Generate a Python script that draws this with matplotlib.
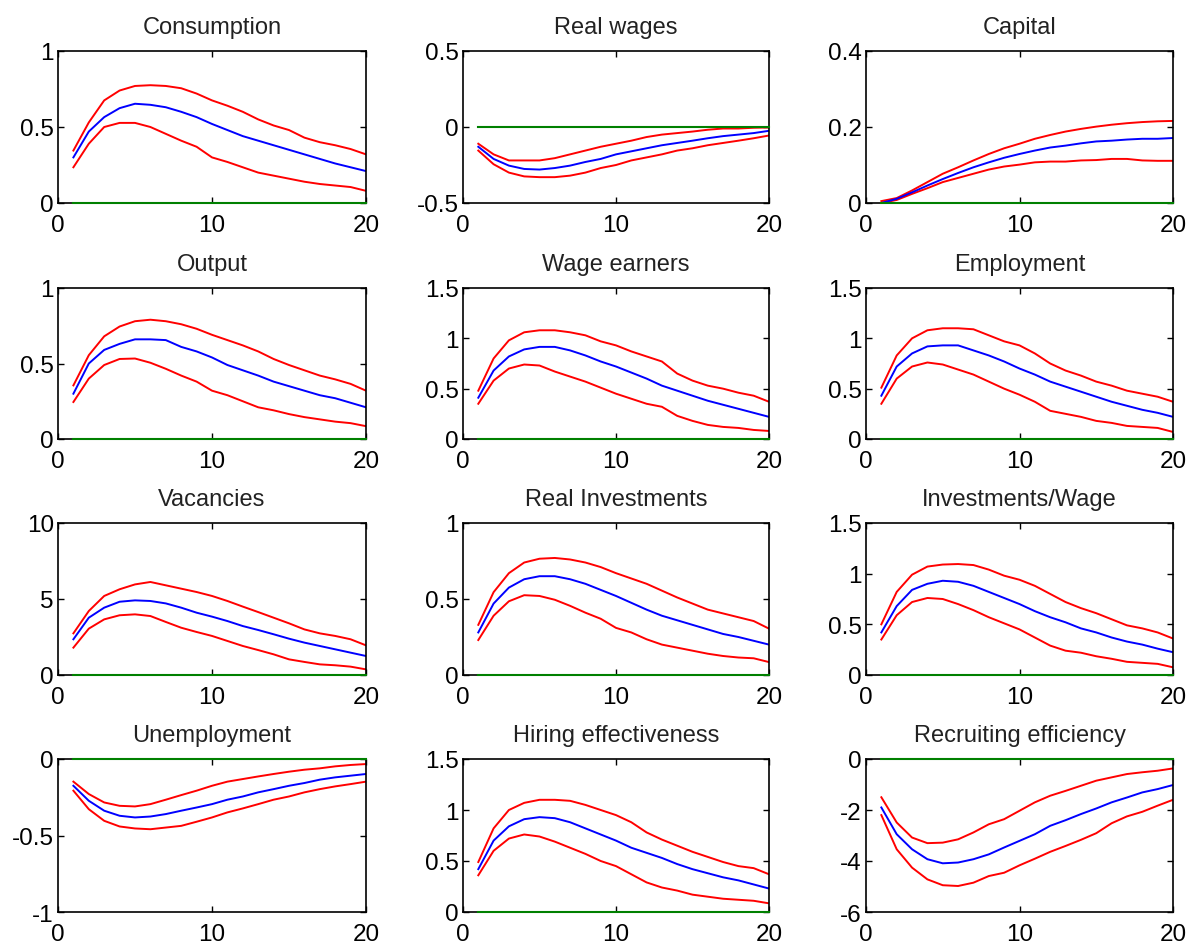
import numpy as np
import matplotlib
# no display here
matplotlib.use('Agg')
import matplotlib.pyplot as plt

plt.rcParams['font.family'] = ['Liberation Sans', 'DejaVu Sans']

HORIZON = list(range(1, 21))

# median (blue) and lower/upper bands (red) per variable
consumption_med = [0.30, 0.47, 0.565, 0.624, 0.653, 0.646, 0.63, 0.60, 0.565, 0.52,
                   0.48, 0.44, 0.41, 0.38, 0.35, 0.32, 0.29, 0.26, 0.235, 0.21]
consumption_hi = [0.345, 0.53, 0.675, 0.74, 0.77, 0.775, 0.77, 0.755, 0.72, 0.675,
                  0.64, 0.60, 0.55, 0.51, 0.48, 0.43, 0.40, 0.38, 0.355, 0.32]
consumption_lo = [0.235, 0.39, 0.50, 0.527, 0.527, 0.50, 0.455, 0.41, 0.37, 0.30,
                  0.27, 0.235, 0.20, 0.18, 0.16, 0.14, 0.125, 0.115, 0.105, 0.08]

wages_med = [-0.13, -0.21, -0.254, -0.276, -0.28, -0.27, -0.254, -0.23, -0.21, -0.18,
             -0.16, -0.14, -0.12, -0.105, -0.09, -0.074, -0.06, -0.05, -0.04, -0.025]
wages_hi = [-0.11, -0.18, -0.22, -0.22, -0.22, -0.205, -0.18, -0.155, -0.13, -0.11,
            -0.09, -0.066, -0.05, -0.04, -0.03, -0.018, -0.01, -0.01, -0.005, -0.003]
wages_lo = [-0.155, -0.245, -0.30, -0.325, -0.33, -0.33, -0.32, -0.30, -0.27, -0.25,
            -0.22, -0.20, -0.18, -0.155, -0.14, -0.12, -0.105, -0.09, -0.074, -0.056]

capital_med = [0.0, 0.011, 0.028, 0.046, 0.063, 0.079, 0.094, 0.107, 0.119, 0.129,
               0.138, 0.146, 0.151, 0.157, 0.162, 0.164, 0.167, 0.169, 0.169, 0.171]
capital_hi = [0.005, 0.013, 0.033, 0.055, 0.077, 0.094, 0.112, 0.129, 0.144, 0.156,
              0.169, 0.179, 0.188, 0.195, 0.201, 0.206, 0.21, 0.213, 0.215, 0.216]
capital_lo = [0.0, 0.008, 0.024, 0.039, 0.055, 0.066, 0.077, 0.088, 0.096, 0.101,
              0.107, 0.109, 0.109, 0.112, 0.113, 0.116, 0.116, 0.112, 0.111, 0.111]

output_med = [0.30, 0.50, 0.59, 0.63, 0.66, 0.66, 0.655, 0.61, 0.58, 0.54,
              0.49, 0.455, 0.42, 0.38, 0.35, 0.32, 0.29, 0.27, 0.24, 0.21]
output_hi = [0.355, 0.555, 0.68, 0.745, 0.78, 0.79, 0.78, 0.76, 0.73, 0.69,
             0.655, 0.62, 0.58, 0.53, 0.49, 0.455, 0.42, 0.395, 0.365, 0.32]
output_lo = [0.245, 0.40, 0.49, 0.53, 0.533, 0.505, 0.465, 0.42, 0.38, 0.32,
             0.29, 0.25, 0.21, 0.19, 0.165, 0.145, 0.13, 0.115, 0.105, 0.085]

earners_med = [0.41, 0.68, 0.82, 0.89, 0.915, 0.915, 0.88, 0.83, 0.77, 0.72,
               0.66, 0.60, 0.53, 0.48, 0.43, 0.38, 0.34, 0.30, 0.26, 0.22]
earners_hi = [0.48, 0.80, 0.98, 1.06, 1.08, 1.08, 1.06, 1.03, 0.97, 0.93,
              0.87, 0.82, 0.77, 0.65, 0.58, 0.53, 0.50, 0.46, 0.43, 0.37]
earners_lo = [0.35, 0.58, 0.70, 0.74, 0.73, 0.67, 0.62, 0.57, 0.51, 0.45,
              0.40, 0.35, 0.32, 0.23, 0.18, 0.14, 0.12, 0.11, 0.09, 0.08]

employment_med = [0.43, 0.72, 0.85, 0.92, 0.93, 0.93, 0.88, 0.83, 0.77, 0.70,
                  0.64, 0.57, 0.52, 0.47, 0.42, 0.37, 0.33, 0.29, 0.26, 0.22]
employment_hi = [0.51, 0.83, 1.0, 1.08, 1.10, 1.10, 1.09, 1.03, 0.97, 0.93,
                 0.85, 0.75, 0.68, 0.63, 0.57, 0.53, 0.48, 0.45, 0.42, 0.37]
employment_lo = [0.35, 0.60, 0.72, 0.76, 0.74, 0.69, 0.64, 0.57, 0.50, 0.44,
                 0.37, 0.28, 0.25, 0.22, 0.18, 0.16, 0.13, 0.12, 0.11, 0.07]

vacancies_med = [2.35, 3.77, 4.43, 4.82, 4.91, 4.87, 4.71, 4.43, 4.1, 3.84,
                 3.55, 3.22, 2.96, 2.68, 2.39, 2.13, 1.91, 1.69, 1.47, 1.25]
vacancies_hi = [2.74, 4.21, 5.2, 5.64, 5.96, 6.12, 5.9, 5.68, 5.46, 5.2,
                4.87, 4.5, 4.14, 3.77, 3.4, 3.0, 2.74, 2.57, 2.35, 1.95]
vacancies_lo = [1.8, 3.05, 3.66, 3.93, 3.99, 3.88, 3.49, 3.11, 2.83, 2.57,
                2.24, 1.91, 1.64, 1.36, 1.03, 0.86, 0.7, 0.64, 0.55, 0.37]

investment_med = [0.28, 0.47, 0.575, 0.63, 0.65, 0.65, 0.63, 0.60, 0.56, 0.52,
                  0.475, 0.43, 0.39, 0.36, 0.33, 0.30, 0.27, 0.25, 0.225, 0.20]
investment_hi = [0.33, 0.545, 0.67, 0.74, 0.765, 0.77, 0.76, 0.74, 0.71, 0.67,
                 0.635, 0.60, 0.555, 0.51, 0.47, 0.43, 0.405, 0.38, 0.355, 0.305]
investment_lo = [0.23, 0.39, 0.485, 0.525, 0.52, 0.495, 0.455, 0.41, 0.37, 0.31,
                 0.28, 0.235, 0.20, 0.18, 0.16, 0.14, 0.125, 0.115, 0.11, 0.085]

inv_wage_med = [0.42, 0.68, 0.84, 0.90, 0.93, 0.92, 0.88, 0.82, 0.76, 0.70,
                0.63, 0.57, 0.52, 0.46, 0.42, 0.37, 0.33, 0.30, 0.26, 0.225]
inv_wage_hi = [0.50, 0.82, 0.99, 1.07, 1.09, 1.095, 1.085, 1.04, 0.98, 0.94,
               0.88, 0.80, 0.72, 0.66, 0.61, 0.55, 0.49, 0.46, 0.42, 0.36]
inv_wage_lo = [0.35, 0.59, 0.72, 0.76, 0.75, 0.70, 0.64, 0.57, 0.51, 0.45,
               0.37, 0.29, 0.24, 0.22, 0.185, 0.16, 0.13, 0.12, 0.11, 0.076]

unemp_med = [-0.175, -0.273, -0.338, -0.371, -0.382, -0.376, -0.36, -0.338, -0.317, -0.295,
             -0.266, -0.245, -0.218, -0.197, -0.175, -0.157, -0.135, -0.12, -0.109, -0.098]
unemp_hi = [-0.148, -0.229, -0.284, -0.306, -0.31, -0.295, -0.266, -0.236, -0.207, -0.175,
            -0.148, -0.131, -0.114, -0.098, -0.083, -0.07, -0.061, -0.048, -0.039, -0.033]
unemp_lo = [-0.207, -0.328, -0.404, -0.441, -0.454, -0.459, -0.448, -0.437, -0.41, -0.382,
            -0.349, -0.323, -0.295, -0.266, -0.245, -0.218, -0.197, -0.179, -0.164, -0.148]

hiring_med = [0.42, 0.70, 0.84, 0.91, 0.93, 0.92, 0.88, 0.82, 0.76, 0.70,
              0.63, 0.58, 0.53, 0.47, 0.42, 0.38, 0.34, 0.31, 0.27, 0.23]
hiring_hi = [0.49, 0.82, 1.0, 1.07, 1.10, 1.10, 1.09, 1.05, 1.0, 0.95,
             0.88, 0.78, 0.71, 0.65, 0.59, 0.54, 0.49, 0.45, 0.43, 0.37]
hiring_lo = [0.36, 0.60, 0.72, 0.76, 0.74, 0.69, 0.63, 0.57, 0.50, 0.45,
             0.37, 0.29, 0.24, 0.21, 0.17, 0.15, 0.13, 0.12, 0.11, 0.085]

recruit_med = [-1.9, -2.95, -3.54, -3.93, -4.09, -4.06, -3.93, -3.74, -3.47, -3.21,
               -2.95, -2.62, -2.4, -2.16, -1.94, -1.7, -1.51, -1.31, -1.18, -1.02]
recruit_hi = [-1.5, -2.49, -3.08, -3.3, -3.28, -3.15, -2.88, -2.56, -2.36, -2.03,
              -1.7, -1.44, -1.25, -1.05, -0.85, -0.72, -0.59, -0.52, -0.46, -0.37]
recruit_lo = [-2.2, -3.54, -4.26, -4.72, -4.95, -4.98, -4.85, -4.59, -4.46, -4.17,
              -3.91, -3.64, -3.41, -3.17, -2.91, -2.52, -2.25, -2.07, -1.83, -1.6]

TITLES = ["Consumption", "Real wages", "Capital",
          "Output", "Wage earners", "Employment",
          "Vacancies", "Real Investments", "Investments/Wage",
          "Unemployment", "Hiring effectiveness", "Recruiting efficiency"]
YTICKS = [[0, 0.5, 1], [-0.5, 0, 0.5], [0, 0.2, 0.4],
          [0, 0.5, 1], [0, 0.5, 1, 1.5], [0, 0.5, 1, 1.5],
          [0, 5, 10], [0, 0.5, 1], [0, 0.5, 1, 1.5],
          [-1, -0.5, 0], [0, 0.5, 1, 1.5], [-6, -4, -2, 0]]
SERIES = [(consumption_lo, consumption_med, consumption_hi),
          (wages_lo, wages_med, wages_hi),
          (capital_lo, capital_med, capital_hi),
          (output_lo, output_med, output_hi),
          (earners_lo, earners_med, earners_hi),
          (employment_lo, employment_med, employment_hi),
          (vacancies_lo, vacancies_med, vacancies_hi),
          (investment_lo, investment_med, investment_hi),
          (inv_wage_lo, inv_wage_med, inv_wage_hi),
          (unemp_lo, unemp_med, unemp_hi),
          (hiring_lo, hiring_med, hiring_hi),
          (recruit_lo, recruit_med, recruit_hi)]

# axes boxes in pixels (left, top, right, bottom) of a 1192x945 figure
COL_X = [(58, 366), (463, 769), (866, 1173)]
ROW_Y = [(52, 204), (289, 440), (524, 676), (760, 913)]
W, H = 1192, 945


def fmt_tick(v):
    return ("%g" % v)


def draw_panel(ax, title, yticks, lo, med, hi):
    # zero line sits on top of the frame, like the matlab original
    ax.plot(HORIZON, np.zeros(len(HORIZON)), color=(0, 0.5, 0), lw=1.5,
            zorder=4, clip_on=False)
    ax.plot(HORIZON, hi, color="red", lw=1.4)
    ax.plot(HORIZON, lo, color="red", lw=1.4)
    ax.plot(HORIZON, med, color="blue", lw=1.4)
    ax.set_xlim(0, 20)
    ax.set_ylim(yticks[0], yticks[-1])
    ax.set_xticks([0, 10, 20])
    ax.set_xticklabels([fmt_tick(v) for v in [0, 10, 20]])
    ax.set_yticks(yticks)
    ax.set_yticklabels([fmt_tick(v) for v in yticks])
    ax.tick_params(direction="in", top=True, right=True, length=4, width=1,
                   labelsize=17.5, colors="black")
    ax.tick_params(axis="x", pad=8)
    ax.tick_params(axis="y", pad=3)
    for s in ax.spines.values():
        s.set_linewidth(1.2)
    ax.set_title(title, fontsize=17, pad=13, color="#222222")


fig = plt.figure(figsize=(W / 100, H / 100), dpi=100)
for i, title in enumerate(TITLES):
    r, c = divmod(i, 3)
    x0, x1 = COL_X[c]
    y0, y1 = ROW_Y[r]
    ax = fig.add_axes([x0 / W, 1 - y1 / H, (x1 - x0) / W, (y1 - y0) / H])
    lo, med, hi = SERIES[i]
    draw_panel(ax, title, YTICKS[i], lo, med, hi)

plt.savefig("out.png", dpi=100)
plt.close()
